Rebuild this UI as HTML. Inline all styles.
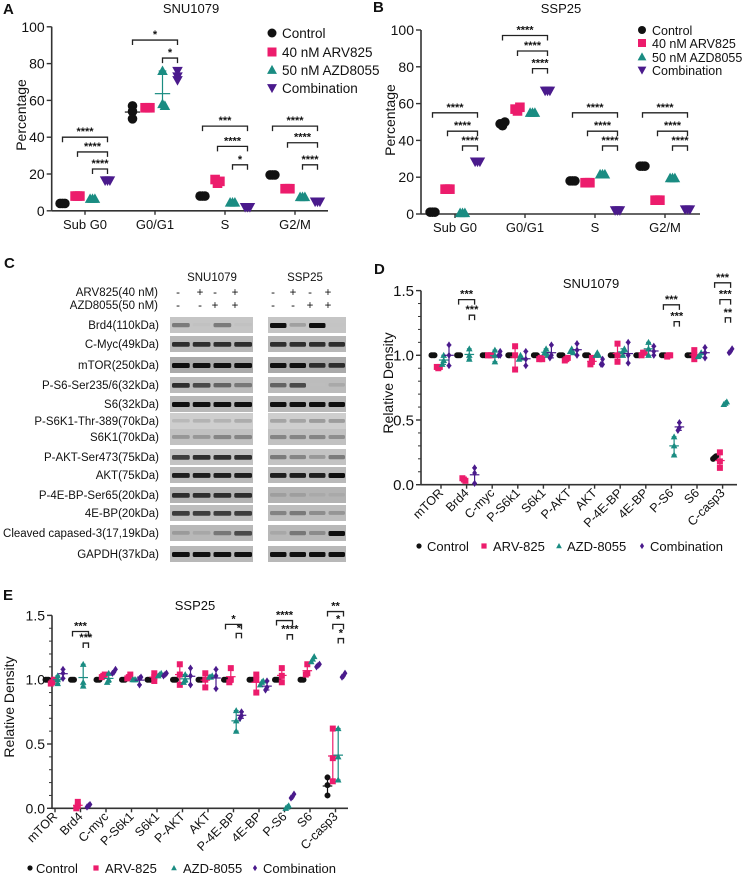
<!DOCTYPE html>
<html><head><meta charset="utf-8">
<style>
html,body{margin:0;padding:0;background:#fff;}
svg{display:block;font-family:"Liberation Sans",Arial,sans-serif;}
</style></head>
<body>
<svg id="fig" width="742" height="877" viewBox="0 0 742 877" xmlns="http://www.w3.org/2000/svg"></svg>
<script>
// ---------- DATA ----------
const seriesNames = ["Control","40 nM ARV825","50 nM AZD8055","Combination"];
const seriesNames2 = ["Control","ARV-825","AZD-8055","Combination"];
const colors = ["#111111","#ec1c6c","#1a8c82","#4a1a8c"];
const shapes = ["circle","square","triangle","invtri"];

const catsAB = ["Sub G0","G0/G1","S","G2/M"];
const ticksAB = [0,20,40,60,80,100];
const ctrlA = [[4,4,4],[57,54,50],[8,8,8],[19.5,19.5,19.5]];
const arvA  = [[8,8,8],[56,56,56],[17,15,16],[12,12,12]];
const azdA  = [[6.5,6.5,6.5],[76,58,57],[4.5,4.5,4.5],[7.5,7.5,7.5]];
const combA = [[16.5,16.5,16.5],[76,73,71],[2,2,2],[5,5,5]];
const bracketsA = [[0,0,3,40,"****"],[0,1,3,32,"****"],[0,2,3,22.7,"****"],
  [1,0,3,92.8,"*"],[1,2,3,83,"*"],
  [2,0,3,46,"***"],[2,1,3,35,"****"],[2,2,3,25,"*"],
  [3,0,3,46,"****"],[3,1,3,37,"****"],[3,2,3,25,"****"]];

const ctrlB = [[1,1,1],[49,48,50],[18,18,18],[26,26,26]];
const arvB  = [[13.5,13.5,13.5],[57,56,58],[17,17,17],[7.5,7.5,7.5]];
const azdB  = [[0.5,0.5,0.5],[55,55,55],[21.5,21.5,21.5],[19.5,19.5,19.5]];
const combB = [[28.5,28.5,28.5],[67,67,67],[2,2,2],[2.5,2.5,2.5]];
const bracketsB = [[0,0,3,55,"****"],[0,1,3,45,"****"],[0,2,3,37,"****"],
  [1,0,3,97,"****"],[1,1,3,88.6,"****"],[1,2,3,79,"****"],
  [2,0,3,55,"****"],[2,1,3,45,"****"],[2,2,3,37,"****"],
  [3,0,3,55,"****"],[3,1,3,45,"****"],[3,2,3,37,"****"]];

const catsDE = ["mTOR","Brd4","C-myc","P-S6k1","S6k1","P-AKT","AKT","P-4E-BP","4E-BP","P-S6","S6","C-casp3"];
const ticksDE = [0.0,0.5,1.0,1.5];
const ctrlD = [[1,1,1],[1,1,1],[1,1,1],[1,1,1],[1,1,1],[1,1,1],[1,1,1],[1,1,1],[1,1,1],[1,1,1],[1,1,1],[0.2,0.21,0.22]];
const arvD  = [[0.91,0.9,0.91],[0.05,0.04,0.03],[1,1,1],[0.89,1.0,1.07],[0.97,0.98,0.97],[0.96,0.97,0.98],[0.93,0.95,0.98],[0.95,1.0,1.09],[1.0,1.02,1.02],[0.99,1.0,1.0],[0.97,1.0,1.04],[0.13,0.18,0.25]];
const azdD  = [[0.93,0.96,1.0],[0.97,1.0,1.05],[0.95,1.0,1.04],[0.97,1.0,0.98],[1.02,1.05,1.0],[1.03,1.05,1.02],[1.0,1.02,1.0],[1.0,1.03,1.05],[1.0,1.05,1.1],[0.23,0.3,0.37],[0.99,1.0,1.02],[0.62,0.63,0.64]];
const combD = [[0.92,1.0,1.08],[0.01,0.09,0.13],[1,1,1.03],[0.92,0.97,1.03],[0.98,1.0,1.08],[1.0,1.04,1.09],[0.93,0.93,0.97],[0.94,1.0,1.1],[1.0,1.03,1.07],[0.42,0.44,0.48],[0.98,1.02,1.06],[1.02,1.03,1.05]];
const bracketsD = [[1,0,3,1.43,"***"],[1,2,3,1.31,"***"],[9,0,3,1.39,"***"],[9,2,3,1.26,"***"],
  [11,0,3,1.56,"***"],[11,1,3,1.43,"***"],[11,2,3,1.29,"**"]];

const ctrlE = [[1,1,1],[1,1,1],[1,1,1],[1,1,1],[1,1,1],[1,1,1],[1,1,1],[1,1,1],[1,1,1],[1,1,1],[1,1,1],[0.1,0.18,0.24]];
const arvE  = [[0.97,0.98,1.0],[0,0.02,0.05],[1.02,1.03,1.04],[1.01,1.02,1.04],[0.99,1.02,1.05],[0.96,1.04,1.12],[0.94,1.0,1.05],[0.98,1.0,1.09],[0.9,1.0,1.04],[0.98,1.03,1.09],[1.04,1.05,1.12],[0.21,0.39,0.62]];
const azdE  = [[0.97,1.0,1.03],[0.95,0.98,1.12],[0.98,1.0,1.05],[1.0,1.0,1.0],[1.03,1.04,1.05],[0.98,1.0,1.04],[1.02,1.02,1.03],[0.6,0.68,0.76],[0.96,0.98,0.99],[0.0,0.01,0.02],[1.14,1.16,1.18],[0.22,0.4,0.62]];
const combE = [[1.01,1.05,1.08],[0.01,0.02,0.03],[1.05,1.06,1.08],[0.96,1.01,1.02],[1.03,1.04,1.05],[0.96,1.03,1.09],[0.93,1.03,1.08],[0.7,0.72,0.75],[0.92,0.94,0.99],[0.08,0.09,0.11],[1.1,1.11,1.12],[1.02,1.03,1.05]];
const bracketsE = [[1,0,3,1.375,"***"],[1,2,3,1.285,"***"],[7,0,3,1.43,"*"],[7,2,3,1.36,"*"],
  [9,0,3,1.46,"****"],[9,2,3,1.35,"****"],[11,0,3,1.53,"**"],[11,1,3,1.43,"*"],[11,2,3,1.32,"*"]];

const blotLabels = ["Brd4(110kDa)","C-Myc(49kDa)","mTOR(250kDa)","P-S6-Ser235/6(32kDa)","S6(32kDa)","P-S6K1-Thr-389(70kDa)","S6K1(70kDa)","P-AKT-Ser473(75kDa)","AKT(75kDa)","P-4E-BP-Ser65(20kDa)","4E-BP(20kDa)","Cleaved capased-3(17,19kDa)","GAPDH(37kDa)"];
const blotTops = [317,336,357,377,396,413,429,449,467,487,505,525,546];
const blotBands = [
 [0.6,0.1,0.6,0.1, 1,0.4,1,0.05],[0.9,0.9,0.9,0.9, 0.9,0.9,0.9,0.9],[1,1,1,1, 1,1,0.9,0.9],
 [0.9,0.8,0.7,0.6, 0.7,0.8,0.05,0.3],[1,1,1,1, 1,1,1,1],[0.25,0.3,0.3,0.35, 0.4,0.4,0.45,0.45],
 [0.45,0.45,0.55,0.55, 0.55,0.55,0.55,0.5],[0.85,0.9,0.9,0.9, 0.6,0.55,0.45,0.6],[0.95,0.95,0.95,0.95, 0.95,0.95,0.95,1],
 [0.9,0.9,0.9,0.9, 0.35,0.35,0.25,0.25],[0.85,0.85,0.85,0.85, 0.55,0.6,0.5,0.45],[0.4,0.3,0.6,0.8, 0.3,0.6,0.5,1],[1,1,1,1, 1,1,1,1]];
const blotBg = [0.75,0.6,0.45,0.65,0.6,0.85,0.7,0.72,0.62,0.55,0.66,0.6,0.6];

// ---------- HELPERS ----------
const svg = document.getElementById('fig');
const NS = "http://www.w3.org/2000/svg";
function mk(tag, attrs, parent){
  const e = document.createElementNS(NS, tag);
  for (const k in attrs) e.setAttribute(k, attrs[k]);
  (parent||svg).appendChild(e);
  return e;
}
function txt(x,y,s,size,anchor,parent,extra){
  const t = mk('text',{x:x,y:y,'font-size':size,'text-anchor':anchor||'middle',fill:'#111'},parent);
  if (extra) for (const k in extra) t.setAttribute(k, extra[k]);
  t.textContent = s;
  return t;
}
function marker(g, shape, x, y, r, color){
  let e;
  if (shape==='circle') e = mk('circle',{cx:x,cy:y,r:r,fill:color},g);
  else if (shape==='square') e = mk('rect',{x:x-r,y:y-r,width:2*r,height:2*r,fill:color},g);
  else if (shape==='triangle') e = mk('polygon',{points:`${x},${y-r*1.15} ${x-r*1.1},${y+r*0.85} ${x+r*1.1},${y+r*0.85}`,fill:color},g);
  else if (shape==='invtri') e = mk('polygon',{points:`${x},${y+r*1.15} ${x-r*1.1},${y-r*0.85} ${x+r*1.1},${y-r*0.85}`,fill:color},g);
  else e = mk('polygon',{points:`${x},${y-r*1.2} ${x-r*0.8},${y} ${x},${y+r*1.2} ${x+r*0.8},${y}`,fill:color},g);
  
  
  return e;
}
function dotPanel(opt){
  const g = mk('g',{});
  
  
  const {x0,x1,yAxis,xc,yv,series,cats,offs,r,minor} = opt;
  const ya = mk('line',{x1:x0,y1:yv(opt.ticks[opt.ticks.length-1]),x2:x0,y2:yAxis,stroke:'#333','stroke-width':1.6},g);
   
  const xa = mk('line',{x1:x0,y1:yAxis,x2:x1,y2:yAxis,stroke:'#333','stroke-width':1.6},g);
   
  opt.ticks.forEach(t=>{
    const y = yv(t);
    mk('line',{x1:x0-5,y1:y,x2:x0,y2:y,stroke:'#333','stroke-width':1.4},g);
    const l = txt(x0-7,y+opt.tickFs*0.36,opt.fmt(t),opt.tickFs,'end',g);
     
  });
  if (minor){
    for (let v=0; v<=opt.ticks[opt.ticks.length-1]+1e-9; v+=minor){
      const y=yv(v); mk('line',{x1:x0-3,y1:y,x2:x0,y2:y,stroke:'#333','stroke-width':1},g);
    }
  }
  cats.forEach((c,i)=>{
    const x = xc(i);
    mk('line',{x1:x,y1:yAxis,x2:x,y2:yAxis+4,stroke:'#333','stroke-width':1.4},g);
    let l;
    if (opt.rot) l = txt(x+3,yAxis+9,c,opt.catFs,'end',g,{transform:`rotate(-45 ${x+3} ${yAxis+9})`});
    else l = txt(x,yAxis+opt.catFs+5,c,opt.catFs,'middle',g);
     
  });
  series.forEach((arr,s)=>{
    arr.forEach((vals,i)=>{
      const x = xc(i)+offs[s];
      const mn=Math.min(...vals), mx=Math.max(...vals), mean=vals.reduce((a,b)=>a+b,0)/vals.length;
      if (yv(mn)-yv(mx) > 2*r){
        mk('line',{x1:x,y1:yv(mn),x2:x,y2:yv(mx),stroke:colors[s],'stroke-width':1.2},g);
        mk('line',{x1:x-r*0.8,y1:yv(mn),x2:x+r*0.8,y2:yv(mn),stroke:colors[s],'stroke-width':1.2},g);
        mk('line',{x1:x-r*0.8,y1:yv(mx),x2:x+r*0.8,y2:yv(mx),stroke:colors[s],'stroke-width':1.2},g);
        mk('line',{x1:x-r*1.6,y1:yv(mean),x2:x+r*1.6,y2:yv(mean),stroke:colors[s],'stroke-width':1.2},g);
      }
      vals.forEach((v,k)=>{
        const jitter = (vals.filter(w=>Math.abs(w-v)<0.02*(opt.ticks[opt.ticks.length-1])).length>1)?(k-1)*r*0.5:0;
        marker(g, opt.shapeSet[s], x+jitter, yv(v), r, colors[s]);
      });
    });
  });
  opt.brackets.forEach(b=>{
    const [ci,sa,sb,v,lab]=b;
    const xa_=xc(ci)+offs[sa], xb_=xc(ci)+offs[sb], y=yv(v);
    const p = mk('path',{d:`M${xa_},${y+5} L${xa_},${y} L${xb_},${y} L${xb_},${y+5}`,fill:'none',stroke:'#222','stroke-width':1.3},g);
     
    const t = txt((xa_+xb_)/2,y-2,lab,opt.starFs,'middle',g,{'font-weight':'bold'});
     
  });
  return g;
}
function label(x,y,s){
  const t = txt(x,y,s,15,'start',svg,{'font-weight':'bold'});
  
  
}

// ---------- PANEL A ----------
label(3,14,"A");
let t=txt(191,13,"SNU1079",13,'middle');  
const yA = v=>210.8-1.84*v;
dotPanel({name:'panel-a-chart',x0:51.7,x1:328,yAxis:210.8,xc:i=>85+70*i,yv:yA,series:[ctrlA,arvA,azdA,combA],cats:catsAB,
  offs:[-22.5,-7.5,7.5,22.5],r:4.8,ticks:ticksAB,fmt:v=>String(v),tickFs:14,catFs:13,starFs:11,brackets:bracketsA,shapeSet:shapes});
t=txt(26,115,"Percentage",14,'middle',svg,{transform:'rotate(-90 26 115)'});  
[33,52,70,88].forEach((y,i)=>{
  const g=mk('g',{});  
  marker(g,shapes[i],272,y,4.5,colors[i]); txt(282,y+5,seriesNames[i],13.5,'start',g);
});

// ---------- PANEL B ----------
label(373,12,"B");
t=txt(561,13,"SSP25",13,'middle');  
const yB = v=>214-1.84*v;
dotPanel({name:'panel-b-chart',x0:421,x1:700,yAxis:214,xc:i=>455+70*i,yv:yB,series:[ctrlB,arvB,azdB,combB],cats:catsAB,
  offs:[-22.5,-7.5,7.5,22.5],r:4.8,ticks:ticksAB,fmt:v=>String(v),tickFs:14,catFs:13,starFs:11,brackets:bracketsB,shapeSet:shapes});
t=txt(395,120,"Percentage",14,'middle',svg,{transform:'rotate(-90 395 120)'});  
[30,43,57,70].forEach((y,i)=>{
  const g=mk('g',{});  
  marker(g,shapes[i],642,y,4,colors[i]); txt(652,y+5,seriesNames[i],12.5,'start',g);
});

// ---------- PANEL C (blots) ----------
label(4,268,"C");
t=txt(212,281,"SNU1079",11.5,'middle');  
t=txt(305,281,"SSP25",11.5,'middle');  
t=txt(158,296,"ARV825(40 nM)",11.5,'end');  
t=txt(158,309,"AZD8055(50 nM)",11.5,'end');  
const laneX = [178,200,215,235, 273,293,310,328];
const arvSign = ["-","+","-","+","-","+","-","+"];
const azdSign = ["-","-","+","+","-","-","+","+"];
laneX.forEach((x,i)=>{ txt(x,296,arvSign[i],11.5,'middle'); txt(x,309,azdSign[i],11.5,'middle'); });
blotLabels.forEach((lab,r)=>{
  const y=blotTops[r];
  const l=txt(159,y+12,lab,11.5,'end');  
  [[170,253,0],[268,346,4]].forEach(([bx0,bx1,off])=>{
    const bg = Math.round(255*(0.55+0.35*blotBg[r]));
    const rc = mk('rect',{x:bx0,y:y,width:bx1-bx0,height:16,fill:`rgb(${bg-10},${bg-10},${bg-10})`});
     
    const w=(bx1-bx0)/4;
    for(let k=0;k<4;k++){
      const d=blotBands[r][off+k];
      const c=Math.round(200-185*d);
      mk('rect',{x:bx0+k*w+2,y:y+6,width:w-3,height:3+2*d,rx:1.5,fill:`rgb(${c},${c},${c})`,opacity:0.2+0.8*d});
    }
  });
});

// ---------- PANEL D ----------
label(374,274,"D");
t=txt(591,288,"SNU1079",13,'middle');  
const yD = v=>484.7-129.4*v;
const shapesDE=["circle","square","triangle","diamond"];
dotPanel({name:'panel-d-chart',x0:421,x1:737,yAxis:484.7,xc:i=>441+25.6*i,yv:yD,series:[ctrlD,arvD,azdD,combD],cats:catsDE,
  offs:[-8,-2.7,2.7,8],r:3,ticks:ticksDE,fmt:v=>v.toFixed(1),tickFs:15,catFs:12.5,starFs:11,brackets:bracketsD,minor:0.1,rot:true,shapeSet:shapesDE});
t=txt(393,383,"Relative Density",14,'middle',svg,{transform:'rotate(-90 393 383)'});  
[[419,427],[484,493],[559,567],[642,650]].forEach(([mx,tx],i)=>{
  const g=mk('g',{});  
  marker(g,shapesDE[i],mx,546,2.6,colors[i]); txt(tx,551,seriesNames2[i],13,'start',g);
});

// ---------- PANEL E ----------
label(3,600,"E");
t=txt(195,610,"SSP25",13,'middle');  
const yE = v=>808.3-128.6*v;
dotPanel({name:'panel-e-chart',x0:52,x1:348,yAxis:808.3,xc:i=>55+25.5*i,yv:yE,series:[ctrlE,arvE,azdE,combE],cats:catsDE,
  offs:[-8,-2.7,2.7,8],r:3,ticks:ticksDE,fmt:v=>v.toFixed(1),tickFs:14,catFs:12.5,starFs:11,brackets:bracketsE,minor:0.1,rot:true,shapeSet:shapesDE});
t=txt(14,707,"Relative Density",14,'middle',svg,{transform:'rotate(-90 14 707)'});  
[[30,36],[96,105],[174,183],[255,263]].forEach(([mx,tx],i)=>{
  const g=mk('g',{});  
  marker(g,shapesDE[i],mx,868,2.6,colors[i]); txt(tx,873,seriesNames2[i],13,'start',g);
});
</script>
</body></html>
